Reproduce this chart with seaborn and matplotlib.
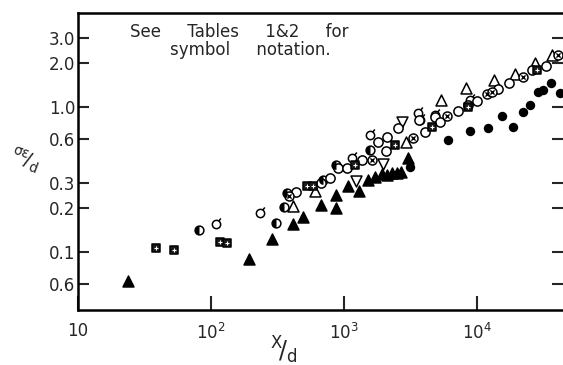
import numpy as np
import pandas as pd
import matplotlib
matplotlib.use("Agg")
import matplotlib.pyplot as plt
from matplotlib.path import Path
import seaborn as sns

# ---------------- data ----------------
tri_fill_x = [23.8, 193, 288, 414, 492, 671, 871, 871, 1072, 1297, 1515, 1711, 1932, 2104, 2295, 2501, 2683, 3040]
tri_fill_y = [0.063, 0.089, 0.122, 0.155, 0.173, 0.210, 0.246, 0.200, 0.284, 0.262, 0.312, 0.327, 0.343, 0.338, 0.349, 0.349, 0.355, 0.443]

tri_open_x = [414, 605, 2926, 5361, 8263, 13430, 19330, 27300, 36620]
tri_open_y = [0.207, 0.262, 0.571, 1.11, 1.34, 1.53, 1.68, 2.00, 2.27]

tri_down_x = [1231, 1965, 2730]
tri_down_y = [0.305, 0.402, 0.784]

flag_x = [109, 233, 1148, 1568, 3600, 3727, 4835, 8848]
flag_y = [0.155, 0.185, 0.443, 0.638, 0.905, 0.810, 0.877, 1.11]

half_x = [81.3, 308, 354, 373, 695, 871, 1568]
half_y = [0.141, 0.158, 0.203, 0.254, 0.312, 0.396, 0.503]

circ_x = [436, 671, 785, 902, 1054, 1365, 1803, 2104, 2068, 2545, 3665, 4064, 4835, 5271, 7194, 8551, 10000, 14390, 17400, 25920, 33040]
circ_y = [0.258, 0.298, 0.322, 0.378, 0.378, 0.429, 0.571, 0.618, 0.495, 0.713, 0.810, 0.669, 0.850, 0.784, 0.934, 1.03, 1.09, 1.32, 1.46, 1.79, 1.91]

cross_x = [386, 1624, 3306, 5947, 11890, 12970, 22200, 40610]
cross_y = [0.242, 0.429, 0.608, 0.863, 1.22, 1.26, 1.60, 2.27]

sq_x = [38.5, 52.7, 117, 132, 527, 585, 1210, 2416, 4590, 8551, 28260]
sq_y = [0.106, 0.103, 0.117, 0.115, 0.284, 0.284, 0.396, 0.544, 0.725, 0.995, 1.79]

dot_x = [3134, 6049, 8848, 12100, 15420, 18660, 22200, 25010, 28770, 31360, 35980, 42070]
dot_y = [0.384, 0.589, 0.680, 0.713, 0.863, 0.725, 0.919, 1.03, 1.26, 1.30, 1.46, 1.24]

y_ticks = [3.0, 2.0, 1.0, 0.6, 0.3, 0.2, 0.1, 0.06]
y_tick_labels = ["3.0", "2.0", "1.0", "0.6", "0.3", "0.2", "0.1", "0.6"]
x_ticks = [10, 100, 1000, 10000]
x_tick_labels = ["10", r"$\mathregular{10^2}$", r"$\mathregular{10^3}$", r"$\mathregular{10^4}$"]

note_line1 = "See     Tables     1&2     for"
note_line2 = "symbol     notation."

# ---------------- style ----------------
sns.set_style("ticks")
plt.rcParams["font.family"] = ["DejaVu Sans"]
plt.rcParams["mathtext.fontset"] = "dejavusans"

W, H = 563, 365
fig = plt.figure(figsize=(W / 100, H / 100), dpi=100)
ax = fig.add_axes([78 / W, 1 - 310 / H, (563 - 78) / W, (310 - 13) / H])

# custom markers
circ = Path.unit_circle()
flag_path = Path.make_compound_path(
    circ, Path([[0.55, 0.85], [1.05, 1.45]], [Path.MOVETO, Path.LINETO]))
half_path = Path.wedge(90, 270)

K = dict(ax=ax, legend=False, zorder=3)
edge = dict(edgecolor="black", linewidth=1.1)


def frame(x, y):
    return pd.DataFrame({"x": x, "y": y})


sns.scatterplot(data=frame(tri_fill_x, tri_fill_y), x="x", y="y", marker="^", s=62,
                color="black", **edge, **K)
sns.scatterplot(data=frame(tri_open_x, tri_open_y), x="x", y="y", marker="^", s=62,
                facecolor="white", **edge, **K)
sns.scatterplot(data=frame(tri_down_x, tri_down_y), x="x", y="y", marker="v", s=62,
                facecolor="white", **edge, **K)
sns.scatterplot(data=frame(flag_x, flag_y), x="x", y="y", marker=flag_path, s=75,
                facecolor="white", **edge, **K)
sns.scatterplot(data=frame(half_x, half_y), x="x", y="y", marker="o", s=40,
                facecolor="white", **edge, **K)
sns.scatterplot(data=frame(half_x, half_y), x="x", y="y", marker=half_path, s=40,
                color="black", linewidth=0, ax=ax, legend=False, zorder=4)
sns.scatterplot(data=frame(circ_x, circ_y), x="x", y="y", marker="o", s=44,
                facecolor="white", **edge, **K)
sns.scatterplot(data=frame(cross_x, cross_y), x="x", y="y", marker="o", s=42,
                facecolor="white", **edge, **K)
sns.scatterplot(data=frame(cross_x, cross_y), x="x", y="y", marker="x", s=9,
                color="black", linewidth=1.0, ax=ax, legend=False, zorder=4)
sns.scatterplot(data=frame(sq_x, sq_y), x="x", y="y", marker="s", s=34,
                color="#1a1a1a", **edge, **K)
sns.scatterplot(data=frame(sq_x, sq_y), x="x", y="y", marker="+", s=8,
                color="white", linewidth=0.8, ax=ax, legend=False, zorder=4)
sns.scatterplot(data=frame(dot_x, dot_y), x="x", y="y", marker="o", s=46,
                color="black", linewidth=0, ax=ax, legend=False, zorder=3)

# ---------------- axes ----------------
ax.set_xscale("log")
ax.set_yscale("log")
ax.set_xlim(10, 10 ** (1 + 485 / 133))
ax.set_ylim(10 ** ((106.7 - 310) / 145), 10 ** ((106.7 - 13) / 145))
ax.minorticks_off()
ax.set_xticks(x_ticks)
ax.set_xticklabels(x_tick_labels)
ax.set_yticks(y_ticks)
ax.set_yticklabels(y_tick_labels)
ax.set_xlabel("")
ax.set_ylabel("")

for s in ["left", "bottom", "top"]:
    ax.spines[s].set_linewidth(1.8)
    ax.spines[s].set_color("black")
ax.spines["right"].set_visible(False)

ax.tick_params(axis="x", direction="in", length=10, width=1.5, pad=9,
               labelsize=12, top=False)
ax.tick_params(axis="y", direction="in", length=8, width=1.5, pad=2,
               labelsize=12, right=True)

# ---------------- texts ----------------
fig.text(239 / W, 1 - 37 / H, note_line1, ha="center", va="baseline", fontsize=12)
fig.text(250 / W, 1 - 55 / H, note_line2, ha="center", va="baseline", fontsize=12)
fig.text(284 / W, 1 - 350 / H, r"$\mathregular{^{X}\!/_{d}}$", ha="center",
         va="center", fontsize=17)
fig.text(25 / W, 1 - 160 / H, r"$\mathregular{^{\sigma\epsilon}\!/_{d}}$",
         ha="center", va="center", fontsize=14, rotation=-20)

fig.savefig("out.png", dpi=100)
